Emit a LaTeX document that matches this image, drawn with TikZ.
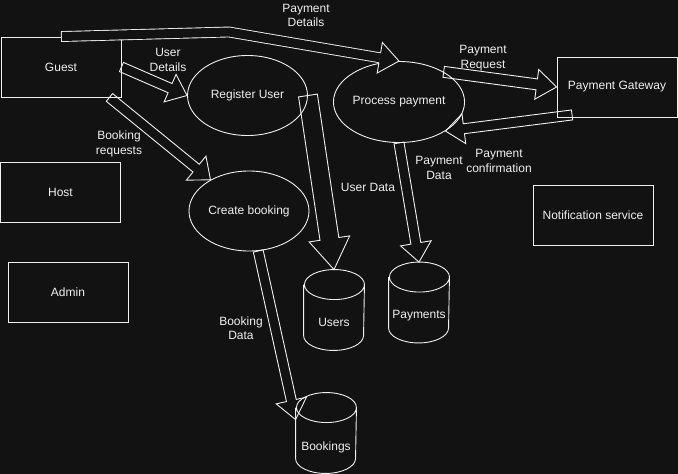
\documentclass[tikz,border=0pt]{standalone}
\usepackage{fontspec}
\setmainfont{Liberation Sans}
\usetikzlibrary{calc,shapes.geometric}
\definecolor{bg}{RGB}{18,18,18}
\definecolor{fg}{RGB}{240,240,240}
% #1 start, #2 end, #3 shaft half width, #4 head half width, #5 head length (pt)
\newcommand\flexarrow[5]{%
  \coordinate (fa-hb) at ($(#2)!#5pt!(#1)$);
  \draw[flex] ($(#1)!#3pt!90:(#2)$) -- ($(fa-hb)!#3pt!90:(#2)$) -- ($(fa-hb)!#4pt!90:(#2)$)
    -- (#2) -- ($(fa-hb)!#4pt!-90:(#2)$) -- ($(fa-hb)!#3pt!-90:(#2)$) -- ($(#1)!#3pt!-90:(#2)$) -- cycle;
}
\newcommand\cylinderoutline[1]{%
  \draw[fg] ($(#1.north west)+(0,15)$) -- ($(#1.south west)+(0,-15)$)
    arc[start angle=180,end angle=0,x radius=30,y radius=15]
    -- ($(#1.north east)+(0,15)$)
    arc[start angle=0,end angle=-180,x radius=30,y radius=15]
    arc[start angle=180,end angle=0,x radius=30,y radius=15];
}
\begin{document}
\begin{tikzpicture}[x=1pt,y=-1pt,line width=0.9pt,
  every node/.style={font=\fontsize{12}{14.5}\selectfont, text=fg, inner sep=0pt},
  box/.style={draw=fg, rectangle, minimum width=120pt, minimum height=60pt},
  proc/.style={draw=fg, ellipse, minimum width=120pt, minimum height=80pt},
  store/.style={rectangle, minimum width=60pt, minimum height=80pt},
  lbl/.style={align=center},
  flex/.style={draw=fg, line join=miter}]
\fill[bg] (0,0) rectangle (678,474);
\useasboundingbox (0,0) rectangle (678,474);

% external entities
\node[box] (guest) at (61,67) {Guest};
\node[box] (host) at (60.5,192.5) {Host};
\node[box] (admin) at (68,292) {Admin};
\node[box] (pg) at (617,87) {Payment Gateway};
\node[box] (notif) at (593,215.5) {Notification service};

% processes
\node[proc] (reg) at (247.5,95.5) {Register User};
\node[proc] (cb) at (249,211) {Create booking};
\node[proc, minimum height=81pt] (pp) at (399,102) {Process payment};

% data stores
\node[store] (users) at (334,310) {};
\node[store] (payments) at (419,302.5) {};
\node[store] (bookings) at (326,433) {};
\cylinderoutline{users}
\cylinderoutline{payments}
\cylinderoutline{bookings}
\path (users.center) ++(0,12) node (usersl) {Users};
\path (payments.center) ++(0,13.5) node (paymentsl) {Payments};
\path (bookings.center) ++(0,14.5) node (bookingsl) {Bookings};

% Payment Details (bent, filled)
\coordinate (pdbend) at (229,32);
\coordinate (pdhb) at ($(pp.north)!19.5pt!(pdbend)$);
\draw[fg, line width=10.8pt, line join=miter] (guest.north) -- (pdbend) -- (pdhb);
\draw[bg, line width=9pt, line join=miter, shorten <=0.9pt] (guest.north) -- (pdbend) -- (pdhb);
\fill[bg] ($(pdhb)!15.5pt!90:(pp.north)$) -- (pp.north) -- ($(pdhb)!15.5pt!-90:(pp.north)$) -- cycle;
\draw[flex] ($(pdhb)!5pt!90:(pp.north)$) -- ($(pdhb)!15.5pt!90:(pp.north)$) -- (pp.north)
  -- ($(pdhb)!15.5pt!-90:(pp.north)$) -- ($(pdhb)!5pt!-90:(pp.north)$);

% other flows
\flexarrow{guest.east}{reg.west}{5}{15}{18.5}
\coordinate (b0) at ($(guest.south east)+(-12,0)$);
\flexarrow{b0}{cb.141}{5}{15.5}{18.5}
\flexarrow{reg.east}{users.north}{9.5}{20.5}{31}
\flexarrow{pp.south}{payments.north}{5}{15.5}{19}
\coordinate (bkin) at ($(bookings.north west)+(0,27)$);
\flexarrow{cb.-77}{bkin}{5}{15.5}{19.5}
\flexarrow{pp.34}{pg.west}{5.5}{15}{20}
\coordinate (g0) at ($(pg.south west)+(15.5,-2.5)$);
\flexarrow{g0}{pp.-32}{5}{15}{18.5}

% flow labels
\node[lbl] (l1) at (306,15.5) {Payment\\Details};
\node[lbl] (l2) at (168,60) {User\\Details};
\node[lbl] (l3) at (119,144) {Booking\\requests};
\node[lbl] (l4) at (368,187.5) {User Data};
\node[lbl] (l5) at (439,168) {Payment\\Data};
\node[lbl] (l6) at (499,161) {Payment\\confirmation};
\node[lbl] (l7) at (483,58) {Payment\\Request};
\node[lbl] (l8) at (241,328) {Booking\\Data};
\end{tikzpicture}
\end{document}
